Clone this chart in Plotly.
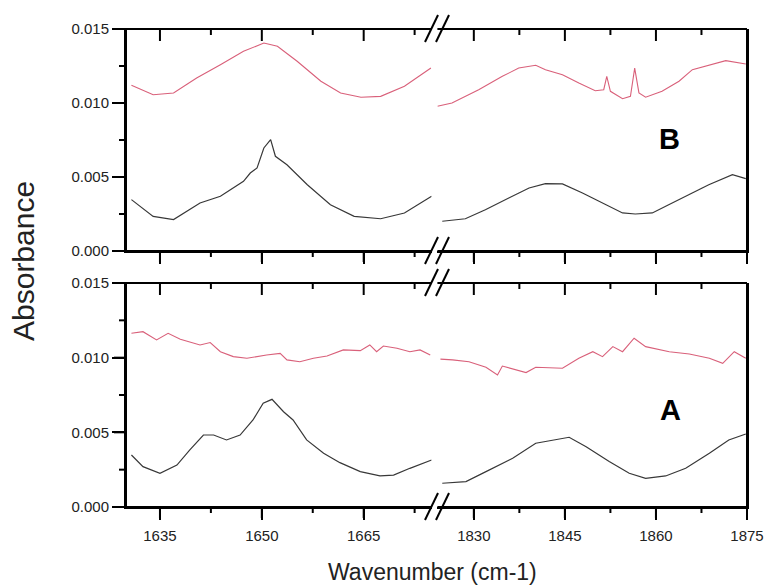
import plotly.graph_objects as go

# ---------------- data ----------------
# Panel B (top)
wn_B_left_red = [1630.8, 1634.0, 1637.0, 1640.4, 1643.9, 1647.3, 1650.3, 1652.3, 1655.2, 1658.7,
                 1661.6, 1664.6, 1667.5, 1671.0, 1674.9]
abs_B_left_red = [0.01120, 0.01056, 0.01068, 0.01169, 0.01259, 0.01349, 0.01405, 0.01383, 0.01282, 0.01147,
                  0.01068, 0.01039, 0.01045, 0.01113, 0.01236]

wn_B_left_blk = [1630.8, 1634.0, 1637.0, 1640.9, 1643.9, 1647.3, 1648.3, 1649.3, 1650.3, 1651.3, 1652.0,
                 1653.7, 1656.7, 1660.1, 1663.6, 1667.5, 1671.0, 1675.0]
abs_B_left_blk = [0.00347, 0.00234, 0.00212, 0.00324, 0.00370, 0.00471, 0.00527, 0.00561, 0.00696, 0.00752, 0.00640,
                  0.00583, 0.00448, 0.00313, 0.00234, 0.00218, 0.00257, 0.00370]

wn_B_right_red = [1824.0, 1826.4, 1830.8, 1834.7, 1837.4, 1840.2, 1841.8, 1844.6, 1847.3, 1850.0, 1851.4,
                  1851.9, 1852.5, 1854.5, 1855.8, 1856.5, 1857.2, 1858.3, 1861.0, 1863.8, 1866.0, 1868.7,
                  1871.5, 1874.8]
abs_B_right_red = [0.00978, 0.01000, 0.01090, 0.01180, 0.01236, 0.01255, 0.01225, 0.01191, 0.01135, 0.01083, 0.01090,
                   0.01180, 0.01079, 0.01029, 0.01045, 0.01236, 0.01068, 0.01039, 0.01079, 0.01147, 0.01225, 0.01255,
                   0.01286, 0.01264]

wn_B_right_blk = [1824.8, 1828.6, 1831.9, 1835.8, 1839.1, 1841.8, 1844.6, 1847.9, 1851.2, 1854.5, 1856.6,
                  1859.4, 1862.1, 1865.4, 1868.7, 1872.6, 1874.8]
abs_B_right_blk = [0.00201, 0.00218, 0.00279, 0.00358, 0.00426, 0.00455, 0.00453, 0.00392, 0.00324, 0.00257, 0.00250,
                   0.00257, 0.00313, 0.00380, 0.00448, 0.00516, 0.00489]

# Panel A (bottom)
wn_A_left_red = [1630.8, 1632.5, 1634.5, 1636.2, 1638.0, 1640.9, 1642.4, 1643.9, 1645.8, 1647.8, 1650.7,
                 1652.7, 1653.7, 1655.6, 1657.6, 1659.6, 1662.0, 1664.5, 1665.9, 1666.9, 1667.9, 1669.9,
                 1671.8, 1673.3, 1674.8]
abs_A_left_red = [0.01163, 0.01174, 0.01119, 0.01163, 0.01123, 0.01085, 0.01101, 0.01040, 0.01007, 0.00996, 0.01018,
                  0.01029, 0.00985, 0.00973, 0.00996, 0.01011, 0.01052, 0.01047, 0.01085, 0.01040, 0.01078, 0.01063,
                  0.01040, 0.01052, 0.01018]

wn_A_left_blk = [1630.8, 1632.5, 1635.0, 1637.5, 1639.4, 1641.4, 1642.9, 1644.8, 1646.8, 1648.7, 1650.2,
                 1651.5, 1653.2, 1654.6, 1656.6, 1659.1, 1661.5, 1664.5, 1667.4, 1669.4, 1671.8, 1675.0]
abs_A_left_blk = [0.00348, 0.00270, 0.00226, 0.00281, 0.00382, 0.00482, 0.00482, 0.00449, 0.00482, 0.00583, 0.00695,
                  0.00721, 0.00638, 0.00583, 0.00449, 0.00360, 0.00297, 0.00237, 0.00208, 0.00214, 0.00259, 0.00315]

wn_A_right_red = [1824.5, 1826.5, 1829.2, 1832.0, 1833.9, 1834.7, 1838.6, 1840.2, 1844.6, 1847.3, 1849.6,
                  1851.2, 1852.9, 1854.5, 1856.4, 1858.3, 1862.2, 1865.5, 1868.8, 1871.0, 1872.9, 1874.8]
abs_A_right_red = [0.00990, 0.00985, 0.00973, 0.00936, 0.00884, 0.00944, 0.00900, 0.00936, 0.00929, 0.00996, 0.01040,
                   0.01007, 0.01074, 0.01040, 0.01130, 0.01074, 0.01040, 0.01025, 0.00996, 0.00962, 0.01040, 0.00996]

wn_A_right_blk = [1824.8, 1828.7, 1832.0, 1836.4, 1840.2, 1843.0, 1845.7, 1848.5, 1852.3, 1855.6, 1858.3,
                  1861.6, 1864.9, 1868.8, 1872.0, 1874.8]
abs_A_right_blk = [0.00159, 0.00170, 0.00237, 0.00326, 0.00427, 0.00449, 0.00467, 0.00404, 0.00304, 0.00226, 0.00192,
                   0.00208, 0.00259, 0.00360, 0.00449, 0.00489]

# axes: ranges and tick values
left_range = [1630, 1675]
right_range = [1824, 1875]
y_range = [0, 0.015]
left_major = [1635, 1650, 1665]
left_minor = [1642.5, 1657.5, 1672.5]
right_major = [1830, 1845, 1860, 1875]
right_minor = [1837.5, 1852.5, 1867.5]
y_major = [0.000, 0.005, 0.010, 0.015]
y_minor = [0.0025, 0.0075, 0.0125]
x_title = "Wavenumber (cm-1)"
y_title = "Absorbance"
panel_labels = ["B", "A"]

# ---------------- styling / layout ----------------
W, H = 770, 585
RED = "#d9607a"
BLK = "#383838"
FONT = "Liberation Sans, Arial, sans-serif"

def fx(px):
    return px / W

def fy(py):
    return 1 - py / H

left_dom = [fx(126), fx(431.6)]
right_dom = [fx(437.4), fx(747)]
B_dom = [fy(251), fy(29)]
A_dom = [fy(507), fy(283)]

fig = go.Figure()

def add_line(x, y, color, xa, ya, width):
    fig.add_trace(go.Scatter(x=x, y=y, mode="lines", line=dict(color=color, width=width),
                             xaxis=xa, yaxis=ya, showlegend=False, hoverinfo="skip"))

# Panel A: x / y (left), x2 / y2 (right); Panel B: x3 / y3 (left), x4 / y4 (right)
add_line(wn_A_left_red, abs_A_left_red, RED, "x", "y", 1.1)
add_line(wn_A_left_blk, abs_A_left_blk, BLK, "x", "y", 1.2)
add_line(wn_A_right_red, abs_A_right_red, RED, "x2", "y2", 1.1)
add_line(wn_A_right_blk, abs_A_right_blk, BLK, "x2", "y2", 1.2)
add_line(wn_B_left_red, abs_B_left_red, RED, "x3", "y3", 1.1)
add_line(wn_B_left_blk, abs_B_left_blk, BLK, "x3", "y3", 1.2)
add_line(wn_B_right_red, abs_B_right_red, RED, "x4", "y4", 1.1)
add_line(wn_B_right_blk, abs_B_right_blk, BLK, "x4", "y4", 1.2)

tickfont = dict(family=FONT, size=15, color="#222222")

def xaxis_bottom(dom, rng, tick0, anchor, labels):
    return dict(domain=dom, range=rng, anchor=anchor, side="bottom", showline=True, linecolor="black",
                linewidth=2, ticks="outside", ticklen=11, tickwidth=2, tickcolor="black",
                tick0=tick0, dtick=15, tickmode="linear", showticklabels=labels, tickfont=tickfont,
                ticklabelstandoff=3, showgrid=False, zeroline=False, automargin=False)

def yaxis_left(dom, anchor):
    return dict(domain=dom, range=y_range, anchor=anchor, side="left", showline=True, linecolor="black",
                linewidth=2, ticks="outside", ticklen=12, tickwidth=2, tickcolor="black",
                tick0=0, dtick=0.005, tickmode="linear", tickformat=".3f", tickfont=tickfont,
                showgrid=False, zeroline=False, automargin=False)

def yaxis_right(dom, anchor):
    return dict(domain=dom, range=y_range, anchor=anchor, side="right", showline=True, linecolor="black",
                linewidth=2, ticks="", showticklabels=False, showgrid=False, zeroline=False,
                automargin=False)

fig.update_layout(
    template="none",
    width=W, height=H, margin=dict(l=0, r=0, t=0, b=0, pad=0),
    paper_bgcolor="white", plot_bgcolor="white", showlegend=False,
    xaxis=xaxis_bottom(left_dom, left_range, 1635, "y", True),
    xaxis2=xaxis_bottom(right_dom, right_range, 1830, "y2", True),
    xaxis3=xaxis_bottom(left_dom, left_range, 1635, "y3", False),
    xaxis4=xaxis_bottom(right_dom, right_range, 1830, "y4", False),
    yaxis=yaxis_left(A_dom, "x"),
    yaxis2=yaxis_right(A_dom, "x2"),
    yaxis3=yaxis_left(B_dom, "x3"),
    yaxis4=yaxis_right(B_dom, "x4"),
)

# ---- frame and tick marks (decoration), mapped from the axes' domain/range ----
shapes = []
LW = 2

def seg(x0, y0, x1, y1):
    shapes.append(dict(type="line", xref="paper", yref="paper", x0=x0, y0=y0, x1=x1, y1=y1,
                       line=dict(color="black", width=LW), layer="above"))

def to_paper(dom, rng, v):
    return dom[0] + (v - rng[0]) / (rng[1] - rng[0]) * (dom[1] - dom[0])

segments = [
    (left_dom, left_range, A_dom, left_major, left_minor, "left"),
    (right_dom, right_range, A_dom, right_major, right_minor, "right"),
    (left_dom, left_range, B_dom, left_major, left_minor, "left"),
    (right_dom, right_range, B_dom, right_major, right_minor, "right"),
]
for xdom, xrng, ydom, major, minor, side in segments:
    seg(xdom[0], ydom[0], xdom[1], ydom[0])          # bottom frame
    seg(xdom[0], ydom[1], xdom[1], ydom[1])          # top frame
    if side == "left":
        seg(xdom[0], ydom[0], xdom[0], ydom[1])      # left frame
        for vals, ln in [(y_major, 12), (y_minor, 7)]:
            for v in vals:
                yp = to_paper(ydom, y_range, v)
                seg(xdom[0], yp, xdom[0] - ln / W, yp)
    else:
        seg(xdom[1], ydom[0], xdom[1], ydom[1])      # right frame
    for vals, ln_out, ln_in in [(major, 11, 12), (minor, 6, 6)]:
        for v in vals:
            xp = to_paper(xdom, xrng, v)
            seg(xp, ydom[0], xp, ydom[0] - ln_out / H)   # bottom, outward
            seg(xp, ydom[1], xp, ydom[1] - ln_in / H)    # top, inward

# axis-break marks "//"
for py in [29, 251, 283, 507]:
    for x0 in [425, 436]:
        seg(fx(x0), fy(py + 13), fx(x0 + 13), fy(py - 14))
fig.update_layout(shapes=shapes)

annotations = [
    dict(text=y_title, xref="paper", yref="paper", x=fx(23), y=fy(261), showarrow=False,
         textangle=-90, xanchor="center", yanchor="middle",
         font=dict(family=FONT, size=30, color="#222222")),
    dict(text=x_title, xref="paper", yref="paper", x=fx(432), y=fy(572), showarrow=False,
         xanchor="center", yanchor="middle", font=dict(family=FONT, size=23, color="#222222")),
    dict(text="<b>%s</b>" % panel_labels[0], xref="paper", yref="paper", x=fx(669), y=fy(139),
         showarrow=False, xanchor="center", yanchor="middle",
         font=dict(family=FONT, size=29, color="black")),
    dict(text="<b>%s</b>" % panel_labels[1], xref="paper", yref="paper", x=fx(670), y=fy(410),
         showarrow=False, xanchor="center", yanchor="middle",
         font=dict(family=FONT, size=29, color="black")),
]
fig.update_layout(annotations=annotations)

fig.write_html("out.html")
